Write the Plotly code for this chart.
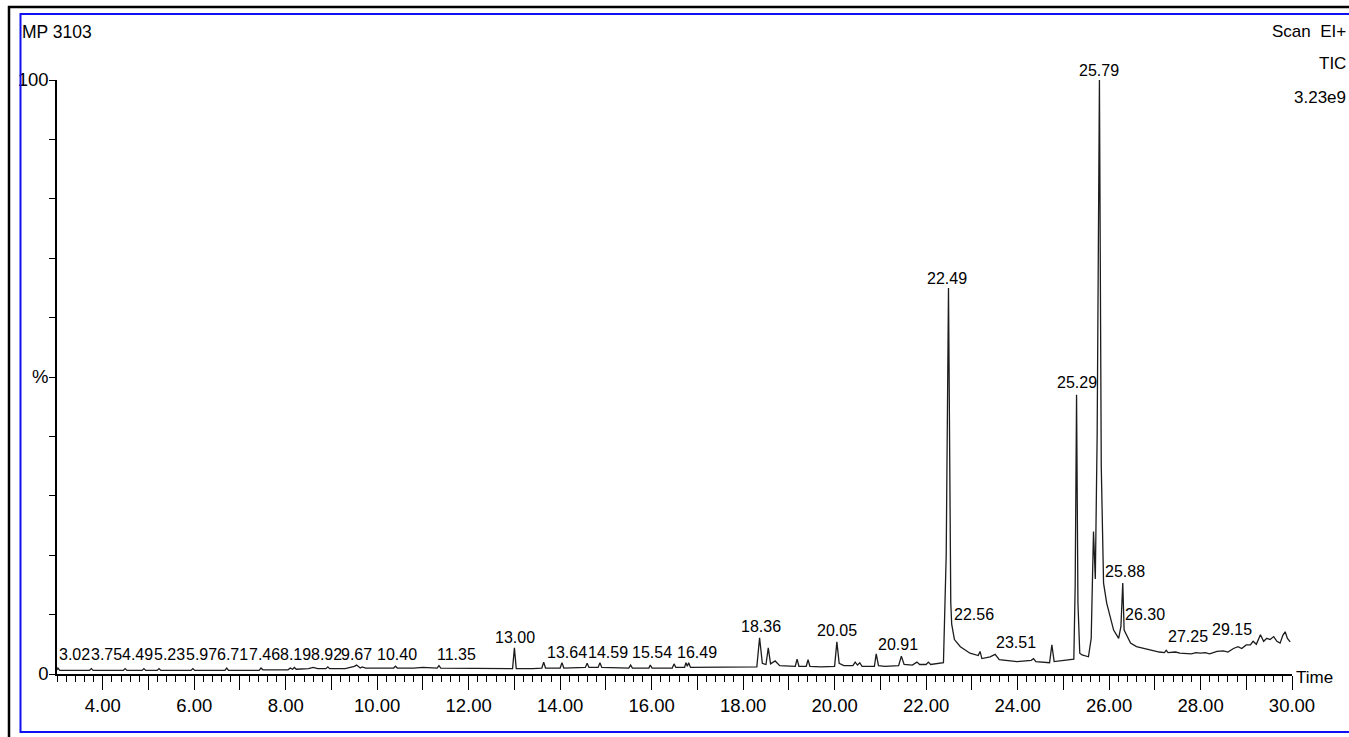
import plotly.graph_objects as go

# ---- TIC chromatogram (retention time in min, relative abundance in %) ----
rt_min = [
    3.00, 3.02, 3.06, 3.40, 3.71, 3.75, 3.79, 4.45, 4.49, 4.53, 4.86, 4.90, 4.94,
    5.19, 5.23, 5.27, 5.93, 5.97, 6.01, 6.67, 6.71, 6.75, 7.42, 7.46, 7.50,
    8.05, 8.10, 8.15, 8.19, 8.23, 8.50, 8.60, 8.70, 8.88, 8.92, 8.96, 9.30,
    9.50, 9.55, 9.63, 9.67, 9.75, 10.00, 10.36, 10.40, 10.44, 10.80, 11.00,
    11.31, 11.35, 11.39, 11.80, 12.20, 12.60, 12.96, 13.00, 13.04, 13.40,
    13.60, 13.64, 13.68, 14.00, 14.04, 14.08, 14.40, 14.55, 14.59, 14.63,
    14.83, 14.87, 14.91, 15.30, 15.50, 15.54, 15.58, 15.94, 15.97, 16.01,
    16.45, 16.49, 16.53, 16.72, 16.75, 16.78, 16.81, 16.85, 17.20, 17.60,
    18.00, 18.30, 18.36, 18.42, 18.50, 18.55, 18.60, 18.70, 18.80, 19.00,
    19.14, 19.18, 19.22, 19.38, 19.42, 19.46, 19.70, 20.00, 20.05, 20.10,
    20.20, 20.40, 20.45, 20.50, 20.55, 20.60, 20.87, 20.91, 20.96, 21.10,
    21.40, 21.46, 21.52, 21.70, 21.80, 21.86, 22.00, 22.05, 22.10, 22.38,
    22.44, 22.49, 22.52, 22.54, 22.56, 22.62, 22.75, 22.96, 23.14, 23.18,
    23.22, 23.30, 23.40, 23.51, 23.60, 23.99, 24.30, 24.35, 24.40, 24.70,
    24.75, 24.80, 25.08, 25.23, 25.26, 25.29, 25.32, 25.36, 25.41, 25.55,
    25.61, 25.66, 25.70, 25.74, 25.79, 25.83, 25.88, 25.95, 26.10, 26.21,
    26.26, 26.30, 26.33, 26.47, 26.60, 26.76, 26.90, 27.00, 27.10, 27.21,
    27.25, 27.29, 27.45, 27.55, 27.63, 27.80, 27.90, 28.00, 28.10, 28.20,
    28.36, 28.50, 28.60, 28.72, 28.82, 28.90, 29.00, 29.09, 29.15, 29.22,
    29.31, 29.38, 29.45, 29.52, 29.60, 29.67, 29.74, 29.80, 29.85, 29.90,
    29.96,
]
abundance_pct = [
    0.7, 1.0, 0.6, 0.6, 0.6, 0.9, 0.6, 0.6, 0.9, 0.6, 0.6, 0.9, 0.6,
    0.6, 0.9, 0.6, 0.6, 0.9, 0.6, 0.6, 1.0, 0.6, 0.6, 1.0, 0.7,
    0.7, 1.0, 0.8, 1.1, 0.8, 0.9, 1.1, 0.9, 0.9, 1.2, 0.9, 0.9,
    1.3, 1.5, 1.0, 1.2, 1.0, 1.0, 1.0, 1.3, 1.0, 1.0, 1.1,
    1.0, 1.4, 1.0, 1.0, 0.9, 0.9, 0.9, 4.4, 0.9, 0.9,
    1.0, 2.0, 1.0, 1.0, 1.9, 1.0, 1.0, 1.1, 1.8, 1.1,
    1.1, 1.9, 1.1, 1.0, 1.0, 1.5, 1.0, 1.0, 1.5, 1.0,
    1.0, 1.7, 1.1, 1.1, 1.9, 1.3, 1.9, 1.1, 1.1, 1.2,
    1.1, 1.2, 6.1, 1.8, 1.6, 4.4, 1.7, 2.2, 1.4, 1.3,
    1.3, 2.5, 1.3, 1.3, 2.4, 1.3, 1.2, 1.3, 5.4, 1.8,
    1.4, 1.4, 2.0, 1.5, 1.9, 1.3, 1.3, 3.4, 1.4, 1.3,
    1.4, 3.0, 1.6, 1.5, 2.0, 1.6, 1.6, 2.0, 1.6, 1.9,
    20.0, 65.0, 25.0, 12.0, 8.4, 5.8, 4.6, 3.5, 3.1, 3.8,
    2.6, 2.7, 2.9, 3.3, 2.4, 2.1, 2.3, 2.6, 2.1, 1.9,
    4.9, 2.1, 2.4, 2.5, 15.0, 47.0, 12.0, 3.5, 3.2, 2.9,
    6.0, 24.0, 16.0, 40.0, 100.0, 35.0, 15.3, 11.9, 7.4, 6.0,
    8.0, 15.3, 7.4, 5.2, 4.6, 4.3, 4.0, 3.9, 3.7, 3.6,
    4.0, 3.6, 3.7, 3.5, 3.5, 3.4, 3.6, 3.5, 3.6, 3.4,
    3.8, 3.9, 3.7, 4.3, 4.6, 4.3, 4.9, 4.9, 5.5, 5.0,
    6.6, 5.5, 6.0, 5.8, 6.3, 5.5, 5.2, 6.5, 7.1, 6.0,
    5.4,
]

# ---- labelled peaks (retention times printed above the trace) ----
peak_rt = [
    3.02, 3.75, 4.49, 5.23, 5.97, 6.71, 7.46, 8.19, 8.92, 9.67, 10.40, 11.35,
    13.00, 13.64, 14.59, 15.54, 16.49, 18.36, 20.05, 20.91, 22.49, 22.56,
    23.51, 25.29, 25.79, 25.88, 26.30, 27.25, 29.15,
]
# label placement: baseline height (%) and horizontal pixel offset
label_base_pct = [
    2.36, 2.36, 2.36, 2.36, 2.36, 2.36, 2.36, 2.36, 2.36, 2.36, 2.36, 2.36,
    5.2, 2.7, 2.7, 2.7, 2.7, 7.1, 6.4, 4.0, 65.7, 9.1,
    4.4, 48.1, 100.7, 16.3, 9.1, 5.4, 6.6,
]
label_dx_px = [
    16.5, 14.7, 12.4, 10, 8.2, 5.8, 3, 0.7, -1.7, -6, 2, 18,
    1, 23.4, 21, 21.3, 22.8, 1.6, 0, 21.5, -1, 22.5,
    21, 0, -0.7, 21.7, 22.5, 22, -21,
]

# ---- axis ticks ----
x_major_vals = list(range(4, 31))
x_major_text = [f"{v:.2f}" if v % 2 == 0 else "" for v in x_major_vals]
y_tick_vals = list(range(0, 101, 10))
y_tick_text = ["0", "", "", "", "", "%", "", "", "", "", "100"]

# ---- header text ----
title_left = "MP 3103"
header_right = ["Scan\u00a0\u00a0EI+", "TIC", "3.23e9"]

FONT = "Liberation Sans, Arial, sans-serif"

W, H = 1349, 737
L, R, T, B = 57, 57, 80, 63
PW, PH = W - L - R, H - T - B


def fx(px):
    return (px - L) / PW


def fy(py):
    return (H - B - py) / PH


fig = go.Figure(
    go.Scatter(
        x=rt_min,
        y=abundance_pct,
        mode="lines",
        line=dict(color="#1c1c1c", width=1.3),
        hoverinfo="x+y",
    )
)

annotations = []
for rt, base, dx in zip(peak_rt, label_base_pct, label_dx_px):
    annotations.append(
        dict(
            x=rt, xref="x", y=base / 100.0, yref="paper",
            text=f"{rt:.2f}", showarrow=False,
            xanchor="center", yanchor="bottom",
            xshift=dx, yshift=-4, borderpad=0,
            font=dict(family=FONT, size=16, color="black"),
        )
    )

annotations.append(
    dict(x=fx(20), y=fy(32), xref="paper", yref="paper", text=title_left,
         showarrow=False, xanchor="left", yanchor="middle",
         font=dict(family=FONT, size=17.5, color="black"))
)
for txt, ypx in zip(header_right, [32, 64, 97]):
    annotations.append(
        dict(x=fx(1348), y=fy(ypx), xref="paper", yref="paper", text=txt,
             showarrow=False, xanchor="right", yanchor="middle",
             font=dict(family=FONT, size=17, color="black"))
    )
annotations.append(
    dict(x=fx(1294), y=fy(677), xref="paper", yref="paper", text="Time",
         showarrow=False, xanchor="left", yanchor="middle",
         font=dict(family=FONT, size=17, color="black"))
)

shapes = [
    # outer black frame
    dict(type="rect", xref="paper", yref="paper",
         x0=fx(9), x1=fx(1365), y0=fy(750), y1=fy(7),
         line=dict(color="black", width=2.5), fillcolor="rgba(0,0,0,0)",
         layer="above"),
    # inner blue frame
    dict(type="rect", xref="paper", yref="paper",
         x0=fx(20.5), x1=fx(1365), y0=fy(732), y1=fy(14),
         line=dict(color="#1010f0", width=2), fillcolor="rgba(0,0,0,0)",
         layer="above"),
]

fig.update_layout(
    width=W, height=H, autosize=False,
    margin=dict(l=L, r=R, t=T, b=B, pad=0),
    paper_bgcolor="white", plot_bgcolor="white",
    showlegend=False,
    annotations=annotations,
    shapes=shapes,
    xaxis=dict(
        range=[3.0, 30.0],
        tickmode="array", tickvals=x_major_vals, ticktext=x_major_text,
        ticks="outside", ticklen=14, tickwidth=1.3, tickcolor="black",
        showline=True, linecolor="black", linewidth=1.5,
        showgrid=False, zeroline=False,
        tickfont=dict(family=FONT, size=18.5, color="black"),
        minor=dict(tickmode="linear", tick0=3.0, dtick=0.2, ticks="outside",
                   ticklen=6, tickwidth=1.1, tickcolor="black", showgrid=False),
        fixedrange=True,
    ),
    yaxis=dict(
        range=[0, 100],
        tickmode="array", tickvals=y_tick_vals, ticktext=y_tick_text,
        ticks="outside", ticklen=6, tickwidth=1.3, tickcolor="black",
        showline=True, linecolor="black", linewidth=1.5,
        showgrid=False, zeroline=False, ticklabelstandoff=-3,
        tickfont=dict(family=FONT, size=18.5, color="black"),
        fixedrange=True,
    ),
)

fig.write_html("out.html")
